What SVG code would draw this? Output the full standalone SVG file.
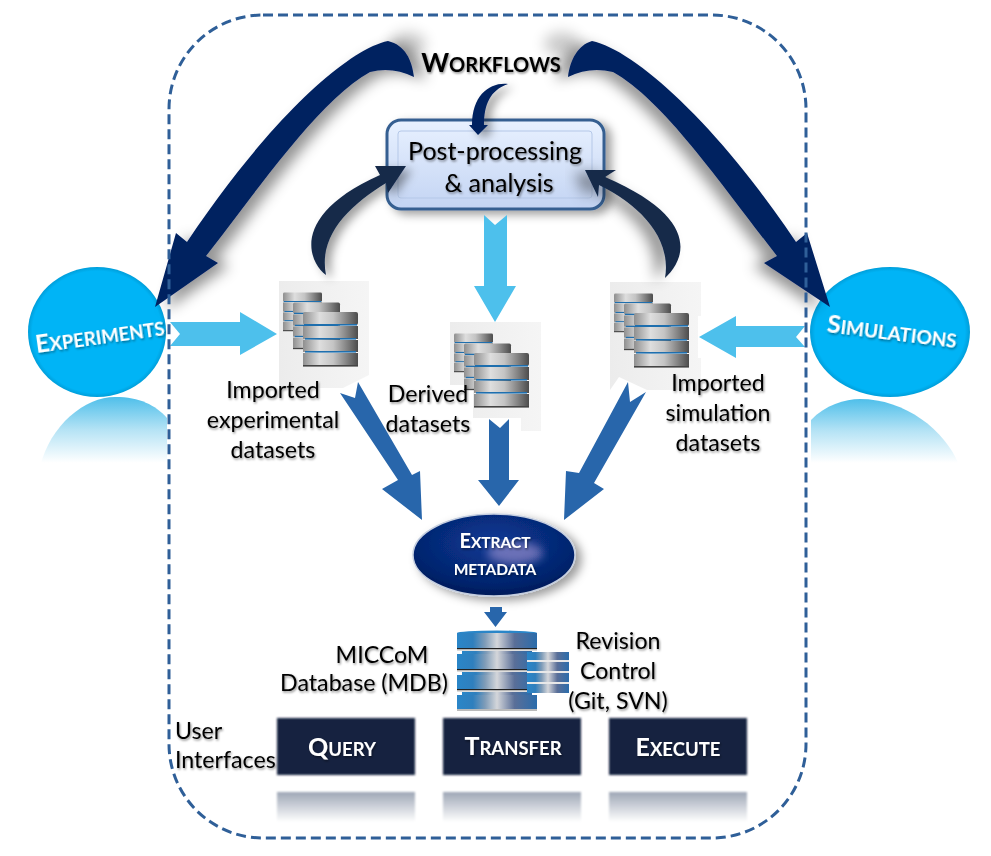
<svg xmlns="http://www.w3.org/2000/svg" xmlns:xlink="http://www.w3.org/1999/xlink" width="991" height="856" viewBox="0 0 991 856">
<style>
text{font-family:Lato,"Liberation Sans",sans-serif;text-anchor:middle}
.lb{font-size:23.2px;fill:#000;filter:url(#ts)}
.sc{font-weight:700;fill:#fff;filter:url(#ts)}
.lt{fill:#4dc0ec}
.bl{fill:#2866ab}
.nv{fill:#012060}
.dk{fill:#14294a}
.box{fill:#12243f;filter:url(#soft)}
.rf{fill:url(#rfg);filter:url(#soft)}
</style>
<defs>
<filter id="ts" x="-10%" y="-30%" width="120%" height="170%"><feDropShadow dx="1" dy="1.5" stdDeviation="1" flood-color="#000" flood-opacity=".45"/></filter>
<filter id="soft" x="-5%" y="-10%" width="110%" height="120%"><feGaussianBlur stdDeviation="1.2"/></filter>
<filter id="shL" x="-20%" y="-20%" width="140%" height="140%"><feDropShadow dx="11" dy="3" stdDeviation="7" flood-color="#000" flood-opacity=".42"/></filter>
<filter id="shR" x="-20%" y="-20%" width="140%" height="140%"><feDropShadow dx="-11" dy="3" stdDeviation="7" flood-color="#000" flood-opacity=".42"/></filter>
<filter id="shS" x="-30%" y="-30%" width="160%" height="160%"><feDropShadow dx="6" dy="4" stdDeviation="5" flood-color="#000" flood-opacity=".38"/></filter>
<filter id="blur8"><feGaussianBlur stdDeviation="5"/></filter>
<filter id="blur10" x="-60%" y="-60%" width="220%" height="220%"><feGaussianBlur stdDeviation="7"/></filter>
<linearGradient id="boxg" x1="0" y1="0" x2="0" y2="1"><stop offset="0" stop-color="#e8f1ff"/><stop offset="1" stop-color="#c3d4f3"/></linearGradient>
<linearGradient id="bgi" x1="0" y1="0" x2="1" y2="0"><stop offset="0" stop-color="#ececec"/><stop offset="1" stop-color="#f5f5f5"/></linearGradient>
<linearGradient id="gry" x1="0" y1="0" x2="1" y2="0"><stop offset="0" stop-color="#8f8f8f"/><stop offset=".3" stop-color="#dedede"/><stop offset=".55" stop-color="#c4c4c4"/><stop offset="1" stop-color="#4c4c4c"/></linearGradient>
<linearGradient id="blu" x1="0" y1="0" x2="1" y2="0"><stop offset="0" stop-color="#2a86c8"/><stop offset=".2" stop-color="#2f7fbd"/><stop offset=".35" stop-color="#7f9cb8"/><stop offset=".5" stop-color="#d4d6da"/><stop offset=".72" stop-color="#5a6f98"/><stop offset="1" stop-color="#2a6cab"/></linearGradient>
<linearGradient id="rfg" x1="0" y1="0" x2="0" y2="1"><stop offset="0" stop-color="#9ea7b6"/><stop offset="1" stop-color="#fff"/></linearGradient>
<linearGradient id="rfb" x1="0" y1="0" x2="0" y2="1"><stop offset="0" stop-color="#4fbfea"/><stop offset=".45" stop-color="#b5e3f5"/><stop offset=".9" stop-color="#fff"/></linearGradient>
<radialGradient id="cy" cx=".5" cy=".5" r=".52"><stop offset=".9" stop-color="#00b4f6"/><stop offset="1" stop-color="#0090c8"/></radialGradient>
<radialGradient id="nvg" cx=".5" cy=".35" r=".7"><stop offset="0" stop-color="#0a3a96"/><stop offset=".75" stop-color="#04236c"/><stop offset="1" stop-color="#021650"/></radialGradient>
<symbol id="stack" viewBox="0 0 55 55" overflow="visible">
<rect x="0" y="0" width="55" height="13" rx="2" fill="url(#gry)"/>
<rect x="1" y="12" width="53" height="1.6" fill="#1f6fae"/>
<rect x="0" y="14" width="55" height="13" fill="url(#gry)"/>
<rect x="2" y="26" width="51" height="1.6" fill="#1f6fae"/>
<rect x="0" y="28" width="55" height="12" fill="url(#gry)"/>
<rect x="2" y="39" width="51" height="1.6" fill="#1f6fae"/>
<rect x="0" y="41" width="55" height="12" fill="url(#gry)"/>
<rect x="0" y="53" width="55" height="1.6" fill="#444"/>
</symbol>
<symbol id="stacks" viewBox="0 0 75 76" overflow="visible">
<use xlink:href="#stack" href="#stack" x="0" y="0" width="39" height="40"/>
<use xlink:href="#stack" href="#stack" x="10" y="10" width="47" height="48"/>
<use xlink:href="#stack" href="#stack" x="20" y="20" width="55" height="55"/>
</symbol>
</defs>

<rect width="991" height="856" fill="#fff"/>

<g id="icon-exp"><polygon points="279,281 369,281 369,375 343,388 279,388" fill="url(#bgi)"/><use href="#stacks" xlink:href="#stacks" x="283" y="292" width="75" height="76"/></g>
<g id="icon-der"><polygon points="450,322 541,322 541,431 521,431 521,418 473,418 473,385 450,385" fill="url(#bgi)"/><use href="#stacks" xlink:href="#stacks" x="454" y="333" width="75" height="76"/></g>
<g id="icon-sim"><polygon points="610,282 701,282 701,316 698,316 698,358 701,358 701,390 647,390 619,377 610,390" fill="url(#bgi)"/><use href="#stacks" xlink:href="#stacks" x="614" y="293" width="75" height="76"/></g>

<g id="experiments">
<path d="M40,467C50,425 85,397 115,397C140,397 155,405 167,418L167,470L40,470Z" fill="url(#rfb)"/>
<ellipse cx="97" cy="332" rx="69" ry="65" fill="url(#cy)"/>
<text class="sc" transform="translate(101,344) rotate(-8)" font-size="18.600"><tspan font-size="24.500">E</tspan>XPERIMENTS</text>
</g>
<g id="simulations">
<path d="M811,420C825,405 845,399 860,399C905,399 945,430 959,465L959,470L811,470Z" fill="url(#rfb)"/>
<ellipse cx="890" cy="332" rx="80" ry="65" fill="url(#cy)"/>
<text class="sc" transform="translate(891,340) rotate(7)" font-size="19"><tspan font-size="25">S</tspan>IMULATIONS</text>
</g>

<g id="postprocessing" >
<rect x="387" y="120" width="217" height="89" rx="14" fill="url(#boxg)" stroke="#365f91" stroke-width="3" filter="url(#shS)"/>
<rect x="398" y="131" width="194" height="67" rx="3" fill="none" stroke="#b5c8e8" stroke-width="1"/>
<text class="lb" x="495" y="160" style="font-size:25px">Post-processing</text>
<text class="lb" x="499" y="192" style="font-size:25px">&amp; analysis</text>
</g>

<g id="extract">
<ellipse cx="494" cy="555" rx="81" ry="41" fill="url(#nvg)" stroke="#c5cfe0" stroke-width="1.500" filter="url(#shS)"/>
<ellipse cx="515" cy="553" rx="28" ry="11" fill="#8b86c8" opacity=".75" filter="url(#blur8)"/>
<text class="sc" x="495" y="548" font-size="15.500"><tspan font-size="20">E</tspan>XTRACT</text>
<text class="sc" x="495" y="575" font-size="15.500">METADATA</text>
</g>

<g id="mdb">
<ellipse cx="497" cy="633" rx="40" ry="2.500" fill="#2a86c8"/>
<rect x="457" y="633" width="80" height="15" fill="url(#blu)"/><rect x="457" y="648" width="80" height="1.500" fill="#222"/><rect x="457" y="649.500" width="80" height="1.500" fill="#ddd"/>
<rect x="462" y="651" width="70" height="3" fill="url(#blu)"/>
<rect x="457" y="654" width="80" height="15" fill="url(#blu)"/><rect x="457" y="669" width="80" height="1.500" fill="#222"/><rect x="457" y="670.500" width="80" height="1.500" fill="#ddd"/>
<rect x="462" y="672" width="70" height="3" fill="url(#blu)"/>
<rect x="457" y="675" width="80" height="14" fill="url(#blu)"/><rect x="457" y="689" width="80" height="1.500" fill="#222"/><rect x="457" y="690.500" width="80" height="1.500" fill="#ddd"/>
<rect x="462" y="692" width="70" height="3" fill="url(#blu)"/>
<rect x="457" y="695" width="80" height="14" fill="url(#blu)"/><rect x="457" y="709" width="80" height="2" fill="#bbb"/>
<rect x="527" y="652" width="42" height="8" fill="url(#blu)"/><rect x="527" y="660" width="42" height="2" fill="#e8e8e8"/>
<rect x="527" y="662" width="42" height="9" fill="url(#blu)"/><rect x="527" y="671" width="42" height="2" fill="#e8e8e8"/>
<rect x="527" y="673" width="42" height="9" fill="url(#blu)"/><rect x="527" y="682" width="42" height="2" fill="#e8e8e8"/>
<rect x="527" y="684" width="42" height="9" fill="url(#blu)"/>
<text class="lb" x="382" y="663">MICCoM</text>
<text class="lb" x="364" y="691">Database (MDB)</text>
</g>
<g id="revision">
<text class="lb" x="618" y="649">Revision</text>
<text class="lb" x="618" y="679">Control</text>
<text class="lb" x="618" y="709">(Git, SVN)</text>
</g>

<g id="query"><rect class="rf" x="277" y="792" width="138" height="30"/><rect class="box" x="277" y="718" width="138" height="57"/><text class="sc" x="342" y="756" font-size="18.500"><tspan font-size="25">Q</tspan>UERY</text></g>
<g id="transfer"><rect class="rf" x="443" y="792" width="138" height="30"/><rect class="box" x="443" y="718" width="138" height="57"/><text class="sc" x="513" y="755" font-size="18.500"><tspan font-size="25">T</tspan>RANSFER</text></g>
<g id="execute"><rect class="rf" x="609" y="792" width="138" height="30"/><rect class="box" x="609" y="718" width="138" height="57"/><text class="sc" x="678" y="756" font-size="18.500"><tspan font-size="25">E</tspan>XECUTE</text></g>

<g id="ui-label">
<text class="lb" x="175" y="739" style="text-anchor:start">User</text>
<text class="lb" x="175" y="768" style="text-anchor:start">Interfaces</text>
</g>
<g id="labels">
<text class="lb" x="273" y="398">Imported</text>
<text class="lb" x="273" y="428">experimental</text>
<text class="lb" x="273" y="458">datasets</text>
<text class="lb" x="428" y="402">Derived</text>
<text class="lb" x="428" y="432">datasets</text>
<text class="lb" x="718" y="391">Imported</text>
<text class="lb" x="718" y="421">simulation</text>
<text class="lb" x="718" y="451">datasets</text>
</g>
<g id="workflows"><text x="491" y="72" font-size="20" font-weight="700" fill="#000" filter="url(#ts)"><tspan font-size="26.500">W</tspan>ORKFLOWS</text></g>

<g id="connectors">
<ellipse cx="408" cy="44" rx="18" ry="12" fill="#000" opacity=".2" filter="url(#blur10)"/>
<ellipse cx="562" cy="44" rx="18" ry="12" fill="#000" opacity=".2" filter="url(#blur10)"/>
<path class="nv" filter="url(#shL)" d="M414,77C412,60 405,45 388,41C345,50 265,125 187,242L176,233L155,307L218,263L206,256C265,180 320,100 370,72C385,68 400,70 414,77Z"/>
<path class="nv" filter="url(#shR)" d="M568,77C570,60 578,45 592,41C635,50 718,125 796,242L807,233L830,307L764,263L777,256C718,180 663,100 613,72C597,68 582,70 568,77Z"/>
<path class="nv" filter="url(#shS)" d="M508,84C490,82 472,95 472,125L469,125L478,135L488,125L484,125C484,105 490,90 508,84Z"/>
<path class="dk" filter="url(#shS)" d="M326,275C308,262 290,215 380,175L375,166L406,166L388,193L386,183C350,205 318,235 326,275Z"/>
<path class="dk" filter="url(#shR)" d="M665,278C683,262 705,220 605,177L616,170L585,170L598,197L599,185C640,205 672,238 665,278Z"/>
<polygon class="lt" points="484,215 495,225 507,215 507,286 516,286 495,322 474,286 484,286"/>
<polygon class="lt" points="170,322 240,322 240,312 277,334 240,355 240,346 170,346 180,334"/>
<polygon class="lt" points="805,326 736,326 736,316 699,337 736,358 736,347 805,347 796,337"/>
<polygon class="bl" points="340,393 355,398 358,382 412,475 420,471 422,520 382,489 398,480"/>
<polygon class="bl" points="489,419 500,428 509,419 509,480 519,480 499,506 478,480 489,480"/>
<polygon class="bl" points="628,382 630,402 646,392 594,483 604,489 564,520 566,471 579,473"/>
<polygon class="bl" points="490,607 502,607 502,612 507,612 495.500,627 484,612 490,612"/>
</g>
<rect id="boundary" x="169" y="15" width="637" height="823" rx="94" ry="94" fill="none" stroke="#2f5f98" stroke-width="3" stroke-dasharray="10 5"/>
</svg>
